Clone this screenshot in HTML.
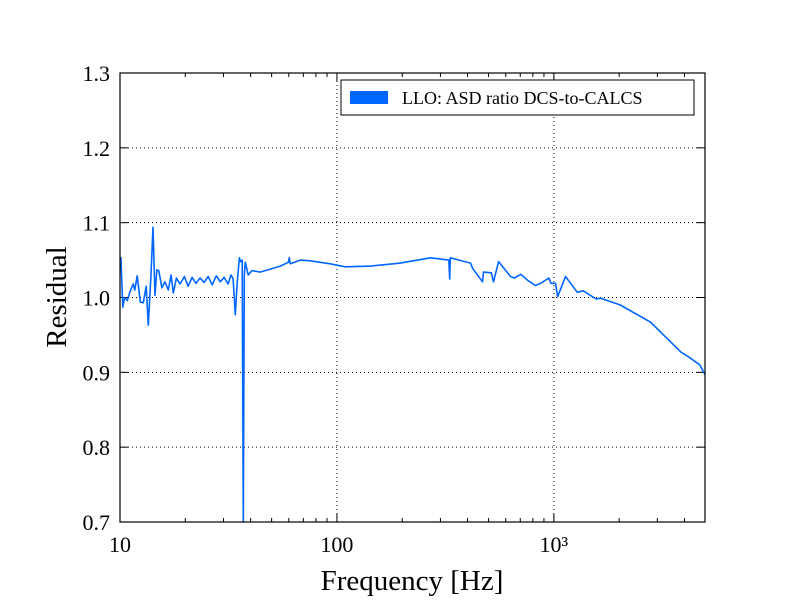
<!DOCTYPE html>
<html><head><meta charset="utf-8"><style>
body{margin:0;background:#fff;}
svg text{font-family:"Liberation Serif",serif;fill:#000;}
</style></head><body>
<svg id="chart" width="800" height="600" xmlns="http://www.w3.org/2000/svg">
<rect width="800" height="600" fill="#fff"/>
<g id="grid"></g>
<g id="ticks"></g>
<path id="series" fill="none" stroke="#0066ff" stroke-width="1.6" stroke-linejoin="round"/>
<rect x="120" y="73" width="585" height="449" fill="none" stroke="#000" stroke-width="1.2"/>
<text x="412" y="590" font-size="29" text-anchor="middle">Frequency [Hz]</text>
<text x="0" y="0" font-size="29" text-anchor="middle" transform="translate(66,297) rotate(-90)">Residual</text>
<g>
<rect x="341" y="80" width="353" height="35" fill="#fff" stroke="#000" stroke-width="1"/>
<rect x="350" y="91" width="38" height="13" fill="#0066ff"/>
<text x="402" y="104" font-size="18">LLO: ASD ratio DCS-to-CALCS</text>
</g>
</svg>
<script>
const freqs=[10.1,10.3,10.5,10.8,11.1,11.5,11.7,12.0,12.4,12.8,13.2,13.5,13.9,14.2,14.5,14.8,15.1,15.6,16.1,16.7,17.2,17.6,18.2,18.9,19.8,20.6,21.5,22.4,23.4,24.4,25.5,26.6,27.8,29.0,30.2,31.5,32.5,33.2,34.0,34.7,35.5,35.9,36.6,37.0,37.4,37.8,39.0,40.6,44.2,49.3,54.9,59.6,60.3,60.9,67.8,75.3,93.1,109,143,196,270,328,331,333,344,413,422,469,474,515,527,556,631,658,705,757,822,869,949,969,1018,1041,1131,1283,1365,1565,1644,2024,2793,3850,4255,4703,4974];
const residuals=[1.054,0.987,1.0,0.996,1.007,1.018,1.010,1.029,0.994,0.993,1.015,0.963,1.031,1.094,1.003,1.037,1.036,1.013,1.021,1.010,1.030,1.006,1.026,1.018,1.028,1.015,1.027,1.019,1.026,1.020,1.028,1.017,1.029,1.021,1.027,1.018,1.030,1.025,0.977,1.02,1.053,1.048,1.05,0.6,1.03,1.047,1.030,1.036,1.034,1.038,1.042,1.047,1.053,1.045,1.050,1.049,1.045,1.041,1.042,1.046,1.053,1.050,1.025,1.053,1.052,1.046,1.039,1.021,1.034,1.033,1.021,1.048,1.028,1.026,1.031,1.023,1.016,1.019,1.026,1.019,1.019,1.001,1.028,1.007,1.009,0.998,0.999,0.990,0.967,0.927,0.919,0.910,0.897];
const xTicks=[10,100,1000];
const xTickLabels=["10","100","10³"];
const yTicks=[0.7,0.8,0.9,1.0,1.1,1.2,1.3];
const yTickLabels=["0.7","0.8","0.9","1.0","1.1","1.2","1.3"];
const X0=120,X1=705,Y0=73,Y1=522,FMIN=10,FMAX=4974,VMIN=0.7,VMAX=1.3;
function xs(f){return X0+(Math.log10(f)-Math.log10(FMIN))/(Math.log10(FMAX)-Math.log10(FMIN))*(X1-X0);}
function ys(v){return Y1-(v-VMIN)/(VMAX-VMIN)*(Y1-Y0);}
const NS="http://www.w3.org/2000/svg";
const grid=document.getElementById('grid'),ticks=document.getElementById('ticks');
function mk(tag,attrs,parent){const e=document.createElementNS(NS,tag);for(const k in attrs)e.setAttribute(k,attrs[k]);parent.appendChild(e);return e;}
xTicks.forEach((t,i)=>{const x=xs(t);
 const g=mk('line',{x1:x,x2:x,y1:Y0,y2:Y1,stroke:'#000','stroke-dasharray':'1,3','stroke-width':1},grid);
 
 
 mk('line',{x1:x,x2:x,y1:Y1,y2:Y1-8,stroke:'#000'},ticks);
 mk('line',{x1:x,x2:x,y1:Y0,y2:Y0+8,stroke:'#000'},ticks);
 const tx=mk('text',{x:x,y:552,'font-size':22,'text-anchor':'middle'},ticks);tx.textContent=xTickLabels[i];
 
 
});
for(let d=1;d<=3;d++)for(let m=2;m<=9;m++){const f=m*Math.pow(10,d);if(f>FMAX)break;const x=xs(f);
 mk('line',{x1:x,x2:x,y1:Y1,y2:Y1-4,stroke:'#000'},ticks);mk('line',{x1:x,x2:x,y1:Y0,y2:Y0+4,stroke:'#000'},ticks);}
yTicks.forEach((t,i)=>{const y=ys(t);
 if(i>0&&i<yTicks.length-1){const g=mk('line',{x1:X0,x2:X1,y1:y,y2:y,stroke:'#000','stroke-dasharray':'1,3','stroke-width':1},grid);
 
 }
 mk('line',{x1:X0,x2:X0+8,y1:y,y2:y,stroke:'#000'},ticks);mk('line',{x1:X1,x2:X1-8,y1:y,y2:y,stroke:'#000'},ticks);
 const tx=mk('text',{x:110,y:y+8,'font-size':22,'text-anchor':'end'},ticks);tx.textContent=yTickLabels[i];
 
 
});
let d='';freqs.forEach((f,i)=>{d+=(i?'L':'M')+xs(f).toFixed(1)+','+Math.min(ys(residuals[i]),Y1).toFixed(1);});
document.getElementById('series').setAttribute('d',d);
</script>
</body></html>
